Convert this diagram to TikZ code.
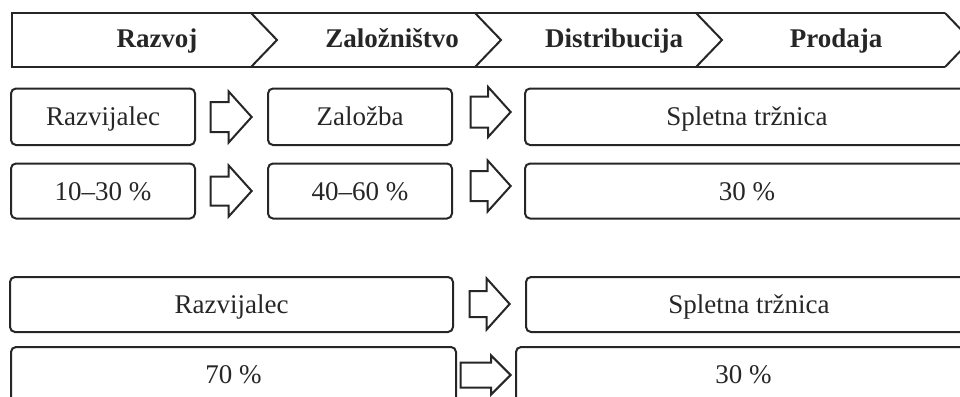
\documentclass[tikz,border=0pt]{standalone}
\usepackage{fontspec}
\setmainfont{Liberation Serif}
\usetikzlibrary{shapes.arrows}
\begin{document}
\begin{tikzpicture}[x=1pt,y=-1pt]
    \tikzset{polje/.style = {draw=black!85,line width=2pt,rounded corners=5pt,minimum height=55pt,inner sep=0pt,font=\fontsize{27}{32}\selectfont,text=black!85,text height=18.5pt,text depth=0.5pt},
    puscica/.style = {single arrow,draw=black!85,line width=2pt,inner sep=0pt,single arrow tip angle=96,anchor=tip},
    faza/.style = {font=\fontsize{27}{32}\selectfont\bfseries,text=black!85,inner sep=0pt,text height=18.5pt,text depth=0.5pt},
    rob/.style = {draw=black!85,line width=2pt}}
    \path[use as bounding box,clip] (0,0) rectangle (960,396);

    % faze
    \draw[rob] (945,13) -- (12,13) -- (12,67) -- (945,67);
    \foreach \k in {251,475,696,945}
        \draw[rob] (\k,13) -- (\k+26,40) -- (\k,67);
    \node[faza] (razvoj) at (157,39) {Razvoj};
    \node[faza] (zaloznistvo) at (392,39) {Založništvo};
    \node[faza] (distribucija) at (614,39) {Distribucija};
    \node[faza] (prodaja) at (836,39) {Prodaja};

    % z zalozbo
    \node[polje,minimum width=184pt,minimum height=56.5pt] (razvijalec) at (103,116.75) {Razvijalec};
    \node[polje,minimum width=184pt,minimum height=56.5pt] (zalozba) at (360,116.75) {Založba};
    \node[polje,minimum width=444pt,minimum height=56.5pt] (trznica) at (747,116.75) {Spletna tržnica};
    \node[polje,minimum width=184pt] (delez1) at (103,191) {10–30 \%};
    \node[polje,minimum width=184pt] (delez2) at (360,191) {40–60 \%};
    \node[polje,minimum width=444pt] (delez3) at (747,191) {30 \%};

    \node[puscica,minimum height=41pt,inner ysep=14pt,single arrow head extend=10.5pt] (p1) at (253,117) {};
    \node[puscica,minimum height=40pt,inner ysep=14.5pt,single arrow head extend=9.5pt] (p2) at (512,112) {};
    \node[puscica,minimum height=41pt,inner ysep=13.5pt,single arrow head extend=11pt] (p3) at (253,191) {};
    \node[puscica,minimum height=40pt,inner ysep=14pt,single arrow head extend=10.5pt] (p4) at (512,186) {};

    % brez zalozbe
    \node[polje,minimum width=443pt] (razvijalec2) at (231.5,304.5) {Razvijalec};
    \node[polje,minimum width=446pt] (trznica2) at (749,304.5) {Spletna tržnica};
    \node[polje,minimum width=445pt] (delez4) at (233.5,374.5) {70 \%};
    \node[polje,minimum width=455pt] (delez5) at (743.5,374.5) {30 \%};

    \node[puscica,minimum height=40pt,inner ysep=12pt,single arrow head extend=12.5pt] (p5) at (511,304) {};
    \node[puscica,minimum height=50pt,inner ysep=11.5pt,single arrow head extend=7pt,single arrow tip angle=90] (p6) at (512,375) {};
\end{tikzpicture}
\end{document}
